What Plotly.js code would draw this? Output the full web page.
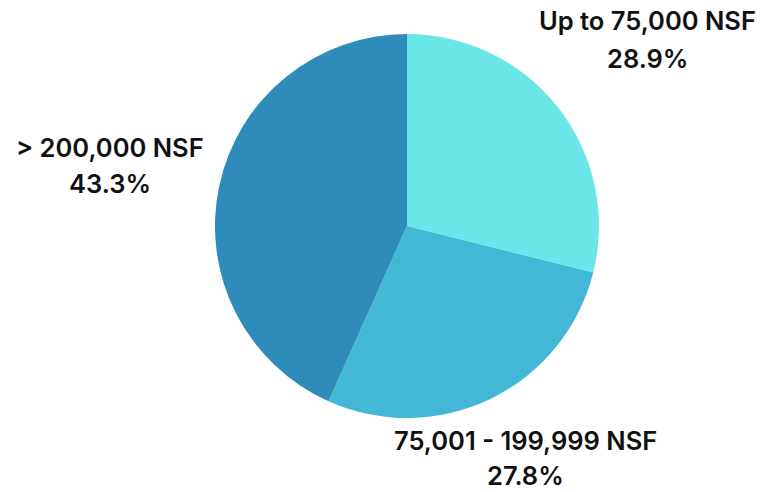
<!DOCTYPE html>
<html>
<head>
<meta charset="utf-8">
<script src="https://cdn.plot.ly/plotly-3.0.1.min.js"></script>
<style>html,body{margin:0;padding:0;background:#fff;}#chart{width:778px;height:492px;}</style>
</head>
<body>
<div id="chart"></div>
<script>
const categories = ["Up to 75,000 NSF", "75,001 - 199,999 NSF", "> 200,000 NSF"];
const shares = [28.9, 27.8, 43.3];
const colors = ["#6AE6E9", "#43B8D6", "#2E8BBA"];
// label anchor positions (paper coords) for each category: name line and percent line
const labelX = [0.832, 0.676, 0.142];
const nameY = [0.959, 0.104, 0.701];
const pctY = [0.882, 0.033, 0.628];

const font = {family: "Inter, 'DejaVu Sans', sans-serif", size: 25.5, color: "#111111", weight: 600};
const annotations = [];
categories.forEach((c, i) => {
  annotations.push({xref: "paper", yref: "paper", x: labelX[i], y: nameY[i], text: c,
    showarrow: false, xanchor: "center", yanchor: "middle", font: font});
  annotations.push({xref: "paper", yref: "paper", x: labelX[i], y: pctY[i], text: shares[i].toFixed(1) + "%",
    showarrow: false, xanchor: "center", yanchor: "middle", font: font});
});

const data = [{
  type: "pie",
  labels: categories,
  values: shares,
  sort: false,
  direction: "clockwise",
  rotation: 0,
  marker: {colors: colors, line: {width: 0}},
  textinfo: "none",
  hoverinfo: "label+percent",
  domain: {x: [0.2763, 0.7699], y: [0.1504, 0.9309]}
}];

const layout = {
  width: 778, height: 492,
  margin: {l: 0, r: 0, t: 0, b: 0},
  showlegend: false,
  paper_bgcolor: "#ffffff",
  annotations: annotations
};
Plotly.newPlot("chart", data, layout, {displayModeBar: false, staticPlot: true});
</script>
</body>
</html>
